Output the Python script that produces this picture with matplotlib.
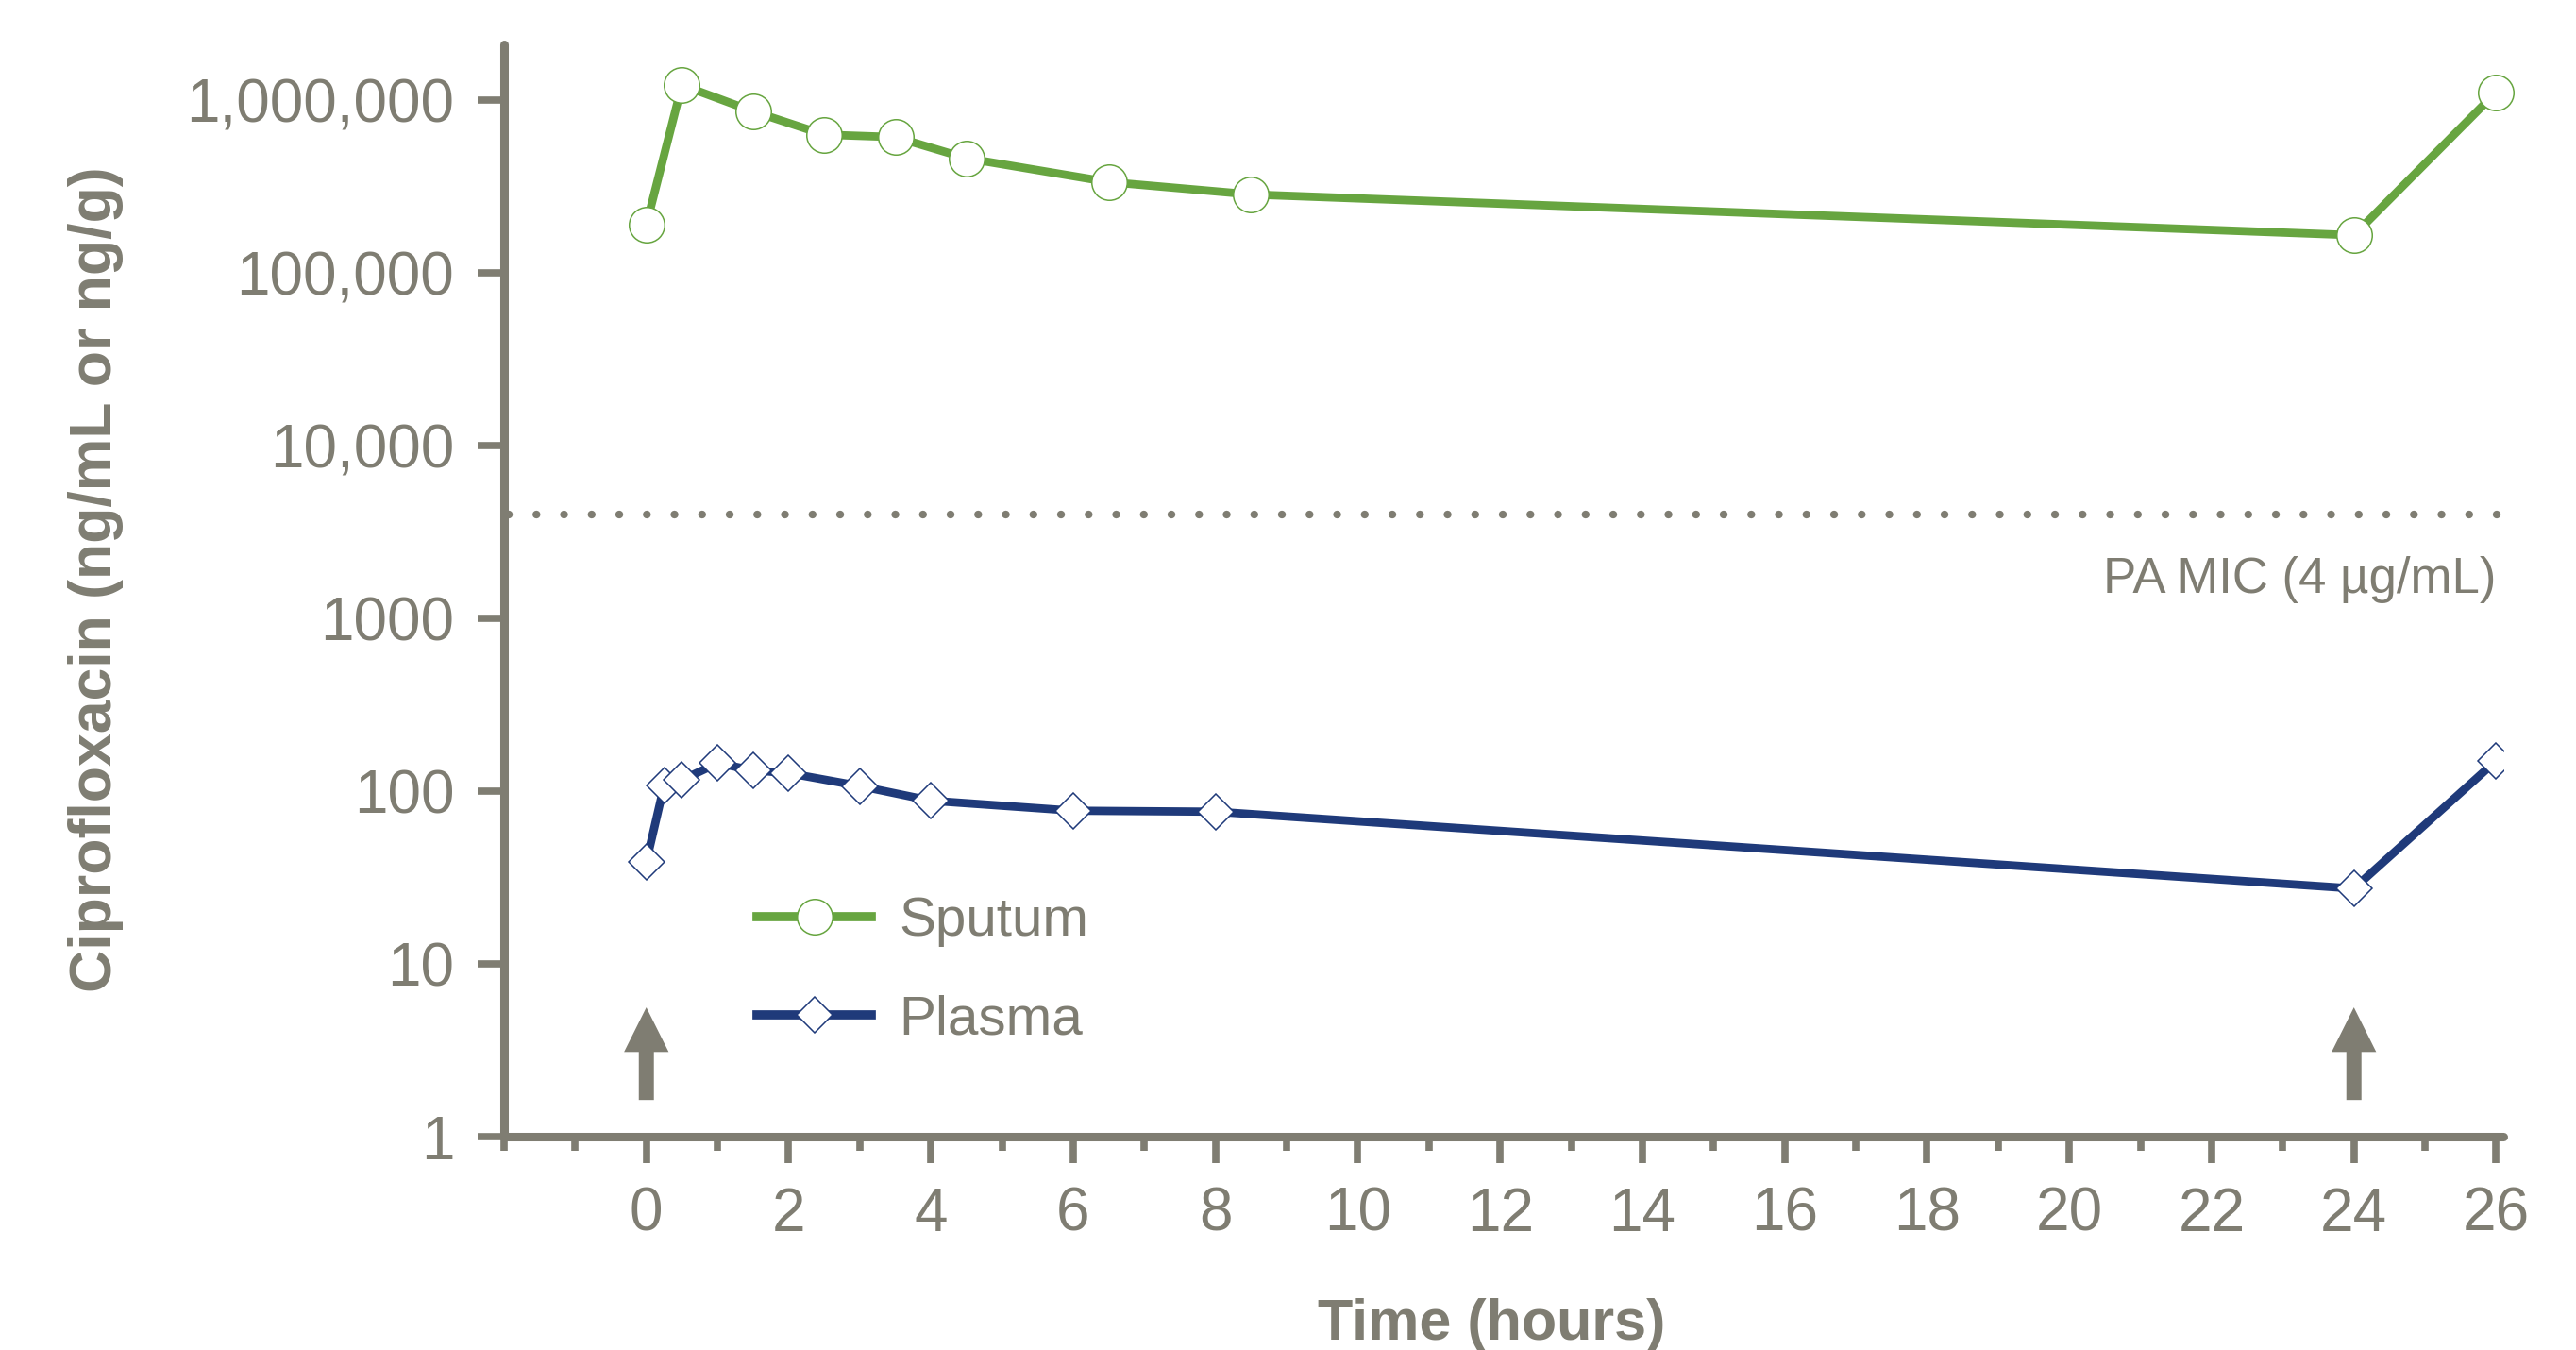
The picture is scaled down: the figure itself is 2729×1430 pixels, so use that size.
import matplotlib
matplotlib.use("Agg")
import matplotlib.pyplot as plt
from matplotlib.ticker import FixedLocator, FixedFormatter, MultipleLocator

# ---------------- data ----------------
sputum_t = [0, 0.5, 1.5, 2.5, 3.5, 4.5, 6.5, 8.5, 24, 26]
sputum_c = [190000, 1220000, 860000, 630000, 610000, 460000, 335000, 284000, 165000, 1110000]

plasma_t = [0, 0.25, 0.5, 1, 1.5, 2, 3, 4, 6, 8, 24, 26]
plasma_c = [39, 108, 116, 145, 132, 127, 107, 88, 77, 76, 27.3, 150]

mic_value = 4000
mic_label = "PA MIC (4 µg/mL)"
dose_times = [0, 24]

y_ticks = [1, 10, 100, 1000, 10000, 100000, 1000000]
y_ticklabels = ["1", "10", "100", "1000", "10,000", "100,000", "1,000,000"]
x_ticks = list(range(0, 27, 2))
x_ticklabels = [str(v) for v in x_ticks]

series_names = ["Sputum", "Plasma"]
x_label = "Time (hours)"
y_label = "Ciprofloxacin (ng/mL or ng/g)"

# ---------------- style ----------------
GREY = "#7f7d72"
GREEN = "#67a540"
NAVY = "#1f3a7a"
plt.rcParams["font.family"] = ["Liberation Sans", "DejaVu Sans"]

W, H = 2729, 1430
fig = plt.figure(figsize=(W / 100, H / 100), dpi=100)
ax = fig.add_axes([534 / W, 1 - 1204 / H, (2652 - 534) / W, (1204 - 47) / H])

ax.set_yscale("log")
ax.set_xlim(-2, 26.1)
ax.set_ylim(1, 10 ** 6.322)

for s in ["top", "right"]:
    ax.spines[s].set_visible(False)
for s in ["left", "bottom"]:
    ax.spines[s].set_color(GREY)
    ax.spines[s].set_linewidth(6.5)
    ax.spines[s].set_capstyle("round")

ax.yaxis.set_major_locator(FixedLocator(y_ticks))
ax.yaxis.set_major_formatter(FixedFormatter(y_ticklabels))
ax.yaxis.set_minor_locator(FixedLocator([]))
ax.xaxis.set_major_locator(FixedLocator(x_ticks))
ax.xaxis.set_major_formatter(FixedFormatter(x_ticklabels))
ax.xaxis.set_minor_locator(MultipleLocator(1))

ax.tick_params(axis="both", which="major", direction="out", length=20, width=5.5,
               color=GREY, labelcolor=GREY, labelsize=46, pad=18)
ax.tick_params(axis="x", which="minor", direction="out", length=11, width=5.5, color=GREY)

# MIC dotted line
ax.hlines(mic_value, -1.93, 26.08, colors=GREY, linewidth=6,
          linestyles=(0, (0.01, 3.5)), capstyle="round", zorder=1)
ax.text(26, 10 ** 3.145, mic_label, ha="right", va="baseline",
        fontsize=38, color=GREY)

# series
ax.plot(sputum_t, sputum_c, color=GREEN, linewidth=6.3, marker="o", markersize=27,
        markerfacecolor="white", markeredgecolor=GREEN, markeredgewidth=1.1,
        label=series_names[0], zorder=3, clip_on=False)
ax.plot(plasma_t, plasma_c, color=NAVY, linewidth=6.3, marker="D", markersize=19,
        markerfacecolor="white", markeredgecolor=NAVY, markeredgewidth=1.1,
        label=series_names[1], zorder=3)

# dose arrows
for t in dose_times:
    ax.annotate("", xy=(t, 5.6), xytext=(t, 1.63),
                arrowprops=dict(arrowstyle="simple,head_length=34,head_width=34,tail_width=11.5",
                                mutation_scale=1, color=GREY, shrinkA=0, shrinkB=0, lw=0))

# labels
ax.set_xlabel(x_label, fontsize=44, fontweight="bold", color=GREY)
ax.xaxis.label.set_va("baseline")
ax.xaxis.set_label_coords(0.494, (1204 - 1419) / 1157)
ax.set_ylabel(y_label, fontsize=45, fontweight="bold", color=GREY)
ax.yaxis.set_label_coords((131 - 534) / 2118, 0.51)

leg = ax.legend(loc="center left", bbox_to_anchor=(802 / W, 1 - 1028 / H),
                bbox_transform=fig.transFigure, frameon=False, fontsize=42,
                handlelength=2.08, handletextpad=0.5, labelspacing=0.86,
                borderpad=0, borderaxespad=0, labelcolor=GREY)
for ln in leg.get_lines():
    ln.set_linewidth(7)

fig.savefig("out.png", dpi=100)
